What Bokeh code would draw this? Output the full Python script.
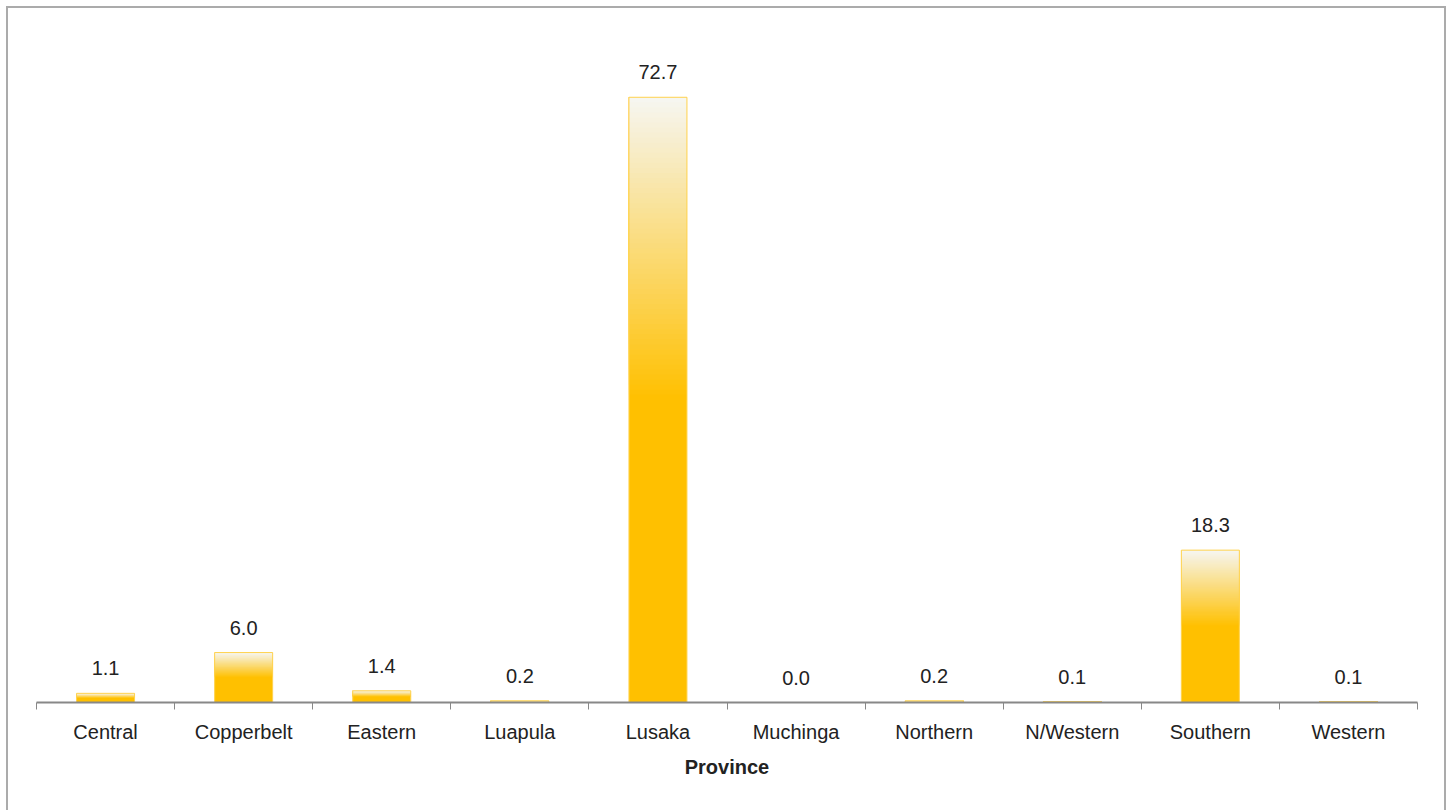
from bokeh.plotting import figure
from bokeh.models import ColumnDataSource, Range1d, FixedTicker, LinearAxis
from bokeh.core.properties import value
from bokeh.embed import file_html
from bokeh.resources import INLINE

provinces = ["Central", "Copperbelt", "Eastern", "Luapula", "Lusaka", "Muchinga",
             "Northern", "N/Western", "Southern", "Western"]
shares = [1.1, 6.0, 1.4, 0.2, 72.7, 0.0, 0.2, 0.1, 18.3, 0.1]
x_title = "Province"

FONT = "Liberation Sans"
GOLD = (255, 192, 0)
TOP = (246, 246, 242)

p = figure(width=1440, height=808, output_backend="svg", toolbar_location=None,
           x_range=Range1d(0, len(provinces)), y_range=Range1d(0, 80),
           min_border_left=28, min_border_right=31, min_border_top=28, min_border_bottom=114)
p.styles = {"border": "2px solid #ababab", "box-sizing": "border-box",
            "margin-left": "6px", "margin-top": "6px"}
p.outline_line_color = None
p.grid.visible = False
p.yaxis.visible = False
p.xaxis.visible = False

centers = [i + 0.5 for i in range(len(provinces))]

# solid base (full height, covered above by the gradient)
src = ColumnDataSource(dict(x=centers, top=shares))
p.vbar(x="x", top="top", bottom=0, width=0.42, source=src,
       fill_color="#FFC000", line_color=None)

# gradient upper half (overlapping layers, drawn bottom first)
N = 60
gx, gb, gt, gc = [], [], [], []
for k in range(N):
    t = (k + 0.5) / N
    col = tuple(int(round(GOLD[j] + (TOP[j] - GOLD[j]) * t)) for j in range(3))
    for c, v in zip(centers, shares):
        if v <= 0:
            continue
        gx.append(c); gb.append(v * (0.5 + 0.5 * k / N)); gt.append(v)
        gc.append("#%02x%02x%02x" % col)
p.vbar(x=gx, bottom=gb, top=gt, width=0.42, fill_color=gc, line_color=None)

# outline
p.vbar(x="x", top="top", bottom=0, width=0.42, source=src,
       fill_color=None, line_color="#FFD24D", line_width=1)

# value labels
p.text(x=centers, y=shares, text=["%.1f" % v for v in shares],
       text_align="center", text_baseline="alphabetic", y_offset=-25,
       text_font=value(FONT), text_font_size="20px", text_color="#222222")

ax = LinearAxis(ticker=FixedTicker(ticks=centers, minor_ticks=list(range(len(provinces) + 1))))
ax.major_label_overrides = {c: name for c, name in zip(centers, provinces)}
ax.axis_line_color = "#888888"
ax.axis_line_width = 2
ax.major_tick_line_color = None
ax.major_tick_out = 0
ax.major_tick_in = 0
ax.minor_tick_line_color = "#888888"
ax.minor_tick_line_width = 1
ax.minor_tick_out = 7
ax.minor_tick_in = 0
ax.major_label_standoff = 11
ax.major_label_text_font = FONT
ax.major_label_text_font_size = "20px"
ax.major_label_text_color = "#222222"
ax.axis_label = x_title
ax.axis_label_text_font = FONT
ax.axis_label_text_font_style = "bold"
ax.axis_label_text_font_size = "20px"
ax.axis_label_text_color = "#222222"
ax.axis_label_standoff = 10
p.add_layout(ax, "below")

open("out.html", "w").write(file_html(p, INLINE))
